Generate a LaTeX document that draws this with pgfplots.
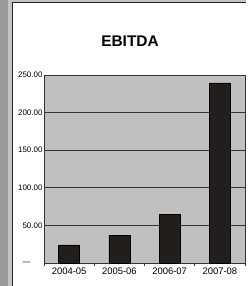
\documentclass[border=0pt]{standalone}
\usepackage{pgfplots}
\pgfplotsset{compat=1.18}
\usepackage{fontspec}
\setmainfont{Liberation Sans}
\definecolor{stripA}{HTML}{9A9A9A}
\definecolor{stripB}{HTML}{C4C4C4}
\definecolor{plotbg}{HTML}{C0C0C0}
\definecolor{barc}{HTML}{221E1C}
\begin{document}
\begin{tikzpicture}[x=1bp,y=1bp]
\fill[stripA] (0,0) rectangle (8,286);
\fill[stripB] (8,0) rectangle (246,286);
\fill[white] (13,0) rectangle (246,283);
\fill[black!85] (12,0) rectangle (13,284);
\fill[black!85] (12,283) rectangle (246,284);
\node[font=\bfseries\fontsize{15.5}{18}\selectfont] at (130,245) {EBITDA};
\begin{axis}[
  at={(44bp,23bp)}, anchor=south west,
  scale only axis, width=201bp, height=188bp,
  xmin=0, xmax=4, ymin=0, ymax=250,
  axis background/.style={fill=plotbg},
  axis line style={black!80, line width=0.8bp},
  ybar, bar width=21bp, bar shift=0pt,
  xtick={0,1,2,3,4}, xticklabels={},
  extra x ticks={0.5,1.5,2.5,3.5},
  extra x tick labels={2004-05,2005-06,2006-07,2007-08},
  extra x tick style={major tick length=0pt, tick label style={font=\fontsize{9.5}{11}\selectfont, yshift=-1bp}},
  x tick style={black!80, line width=0.8bp},
  major tick length=3bp,
  xtick pos=bottom, xtick align=outside,
  ytick={0,50,100,150,200,250},
  yticklabels={\textemdash\rule{12bp}{0pt},50.00,100.00,150.00,200.00,250.00},
  ytick style={draw=none},
  yticklabel style={font=\fontsize{8}{9}\selectfont, xshift=2bp},
  /pgf/number format/assume math mode=true,
  ymajorgrids, grid style={black!80, line width=0.8bp},
  clip=false,
]
\addplot[fill=barc, draw=black, line width=0.5bp] coordinates {(0.5,24) (1.5,37) (2.5,64.5) (3.5,239.5)};
\end{axis}
\end{tikzpicture}
\end{document}
